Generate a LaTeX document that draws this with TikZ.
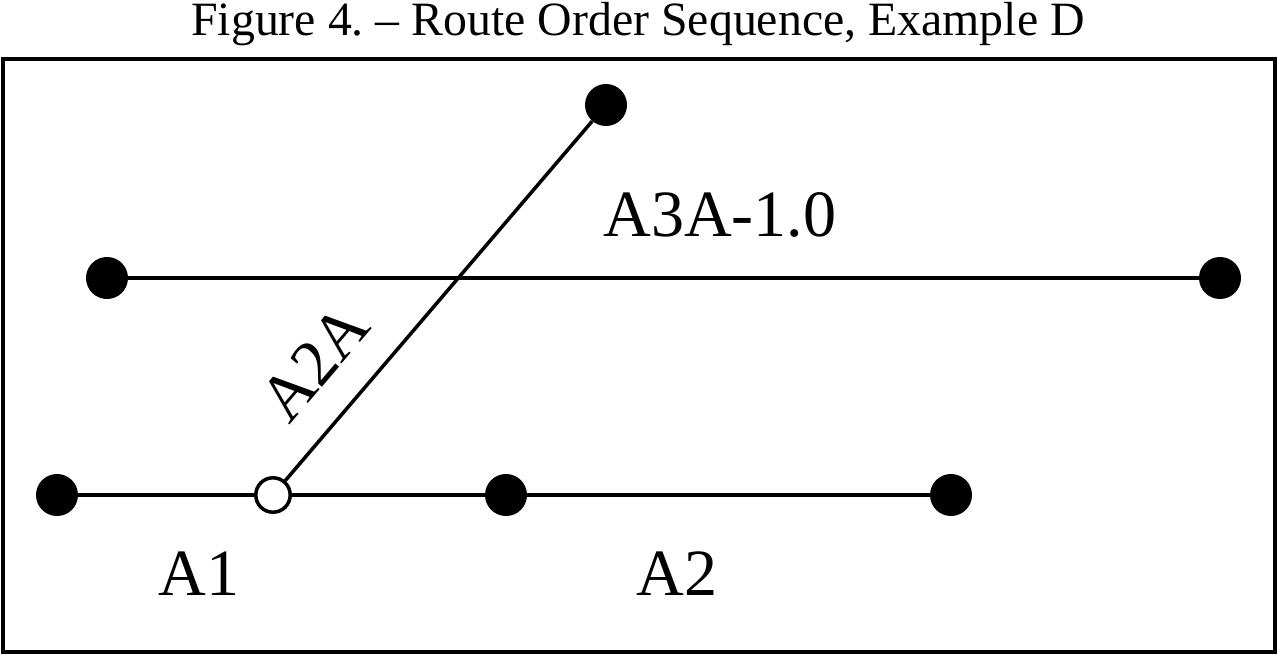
\documentclass[tikz,border=0pt]{standalone}
\usepackage{fontspec}
\setmainfont{Liberation Serif}
\usetikzlibrary{positioning}
\frenchspacing
\tikzset{
  stop/.style={circle,fill=black,draw=none,inner sep=0pt,minimum size=1.05cm},
  ostop/.style={circle,fill=white,draw=black,line width=2.5pt,inner sep=0pt,minimum size=0.86cm},
  seg/.style={line width=2.5pt,black},
  lbl/.style={font=\fontsize{47}{56}\selectfont,anchor=base,inner sep=0pt},
}
\begin{document}
\begin{tikzpicture}[x=0.025cm,y=-0.025cm]
    \useasboundingbox (0,0) rectangle (1278,656);
    \node[font=\fontsize{34}{40}\selectfont,anchor=base,inner sep=0pt] (title) at (638,36) {Figure 4. -- Route Order Sequence, Example D};
    \draw[line width=2.5pt] (3,59) rectangle (1275,652);
    %% Stops
    \node[stop]  (top)   at (606,105) {};
    \node[stop]  (midl)  at (107,278) {};
    \node[stop]  (midr)  at (1220,278) {};
    \node[stop]  (a1s)   at (57,495) {};
    \node[ostop] (junc)  at (273,495) {};
    \node[stop]  (a2s)   at (506,495) {};
    \node[stop]  (a2e)   at (951,495) {};
    %% Routes
    \draw[seg] (a1s) -- (junc);
    \draw[seg] (junc) -- (a2s);
    \draw[seg] (a2s) -- (a2e);
    \draw[seg] (midl) -- (midr);
    \draw[seg] (junc) -- node[sloped,above=22pt,pos=0.23,font=\fontsize{47}{56}\selectfont,inner sep=0pt] (a2a) {A2A} (top);
    %% Labels
    \node[lbl] (a3a) at (720,237) {A3A-1.0};
    \node[lbl] (la1) at (199,595) {A1};
    \node[lbl] (la2) at (677,595) {A2};
\end{tikzpicture}
\end{document}
